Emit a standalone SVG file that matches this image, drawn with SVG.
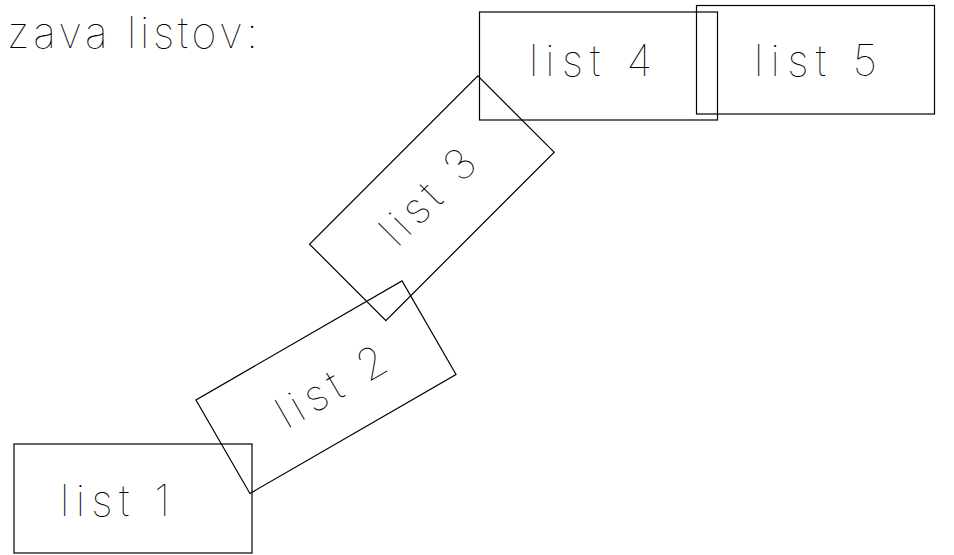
<svg xmlns="http://www.w3.org/2000/svg" width="954" height="555" viewBox="0 0 954 555">
<style>
.sheet{fill:none;stroke:#000;stroke-width:1.2}
.lbl{font-family:Inter,"Liberation Sans",sans-serif;font-weight:100;font-size:43px;fill:#000}
</style>
<rect width="954" height="555" fill="#fff"/>
<text class="lbl" x="7" y="48" textLength="251" lengthAdjust="spacing">zava listov:</text>
<g id="list1">
<rect class="sheet" x="14" y="444" width="238" height="109"/>
<text class="lbl" x="60" y="516" textLength="110" lengthAdjust="spacing">list 1</text>
</g>
<g id="list2" transform="translate(326,387.2) rotate(-30)">
<rect class="sheet" x="-119" y="-54" width="238" height="108"/>
<text class="lbl" x="-55" y="17" textLength="120" lengthAdjust="spacing">list 2</text>
</g>
<g id="list3" transform="translate(431.85,198.2) rotate(-45)">
<rect class="sheet" x="-119" y="-54" width="238" height="108"/>
<text class="lbl" x="-60" y="11" textLength="116" lengthAdjust="spacing">list 3</text>
</g>
<g id="list4">
<rect class="sheet" x="479.5" y="12" width="238" height="108"/>
<text class="lbl" x="529" y="76" textLength="123" lengthAdjust="spacing">list 4</text>
</g>
<g id="list5">
<rect class="sheet" x="696.5" y="5.5" width="238" height="108.5"/>
<text class="lbl" x="754" y="76" textLength="123" lengthAdjust="spacing">list 5</text>
</g>
<g id="connectors"/>
</svg>
